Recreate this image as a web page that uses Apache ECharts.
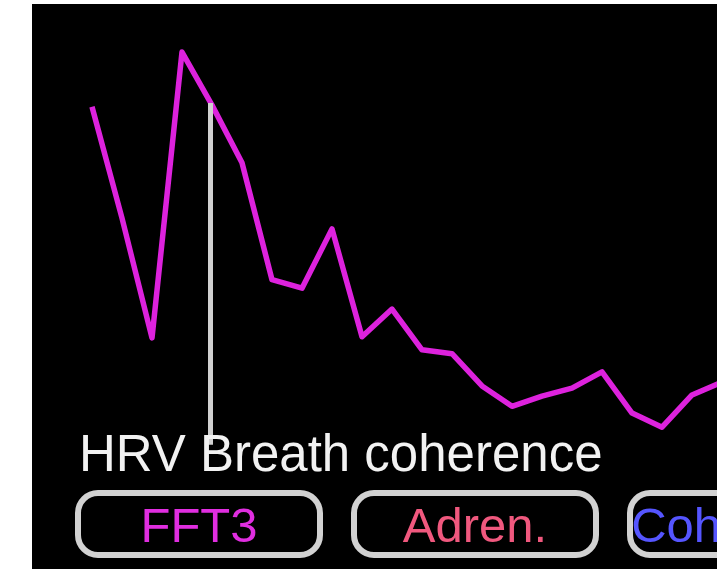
<!DOCTYPE html>
<html>
<head>
<meta charset="utf-8">
<script src="https://cdn.jsdelivr.net/npm/echarts@6/dist/echarts.min.js"></script>
<style>
html,body{margin:0;padding:0;background:#fff;}
#chart{width:717px;height:571px;}
</style>
</head>
<body>
<div id="chart"></div>
<script>
// Spectrum bins (index) and power values (0-100 scale)
const bins = [0,1,2,3,4,5,6,7,8,9,10,11,12,13,14,15,16,17,18,19,20,21];
const power = [81.8,62.1,40.9,91.5,82.1,71.9,51.2,49.7,60.2,41.1,46.0,38.8,38.1,32.4,28.8,30.6,32.0,34.9,27.6,25.1,30.8,33.1];
// Cursor position (bin) and its vertical span
const cursorBin = 3.93;
const cursorSpan = [82.5, 22.0];
// Labels
const titleText = "HRV Breath coherence";
const buttonLabels = ["FFT3", "Adren.", "Coherence"];
const buttonColors = ["#e02ee0", "#f0587e", "#5555ff"];

const chart = echarts.init(document.getElementById('chart'));

const buttons = [];
const bx0 = 78, bw = 242, bgap = 34, by = 493, bh = 62;
buttonLabels.forEach((lab, i) => {
  const x = bx0 + i * (bw + bgap);
  buttons.push({
    type: 'rect', z: 100,
    shape: {x: x, y: by, width: bw, height: bh, r: 20},
    style: {fill: '#000', stroke: '#d2d2d2', lineWidth: 6}
  });
  buttons.push({
    type: 'text', z: 101,
    style: {x: x + bw / 2, y: by + bh / 2 + 4, text: lab, fill: buttonColors[i],
      font: '49px "Liberation Sans", Arial, sans-serif', align: 'center', verticalAlign: 'middle'}
  });
});

chart.setOption({
  backgroundColor: '#ffffff',
  animation: false,
  grid: {left: 32, right: 0, top: 4, bottom: 2, show: true, backgroundColor: '#000', borderWidth: 0},
  xAxis: {type: 'value', min: -2, max: -2 + 685 / 30, show: false},
  yAxis: {type: 'value', min: 0, max: 100, show: false},
  series: [{
    type: 'line',
    data: bins.map((b, i) => [b, power[i]]),
    symbol: 'none',
    clip: true,
    lineStyle: {color: '#dd22dd', width: 5.5, join: 'round'},
    markLine: {
      silent: true, symbol: 'none', label: {show: false},
      lineStyle: {color: '#d0d0d0', width: 5, type: 'solid'},
      data: [[{coord: [cursorBin, cursorSpan[0]]}, {coord: [cursorBin, cursorSpan[1]]}]]
    }
  }],
  graphic: [
    {type: 'text', z: 100,
     style: {x: 79, y: 457, text: titleText, fill: '#f2f2f2',
       font: '51px "Liberation Sans", Arial, sans-serif', align: 'left', verticalAlign: 'middle'}}
  ].concat(buttons)
});
</script>
</body>
</html>
